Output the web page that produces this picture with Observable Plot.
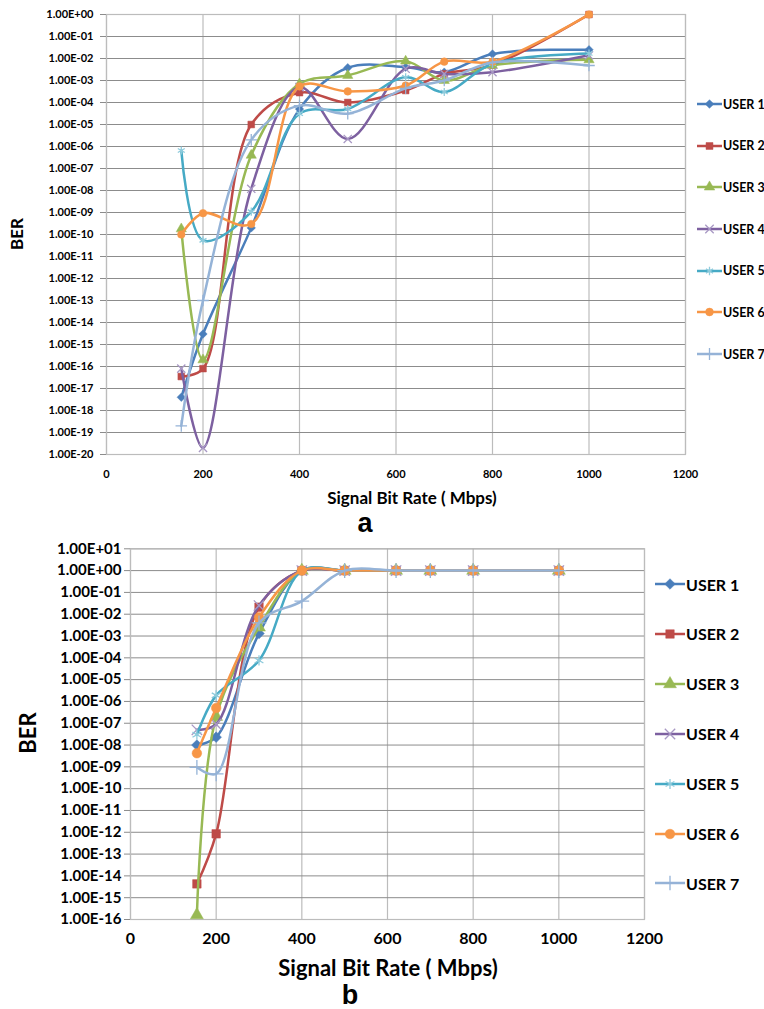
<!DOCTYPE html>
<html>
<head>
<meta charset="utf-8">
<script src="https://cdn.jsdelivr.net/npm/d3@7"></script>
<script src="https://cdn.jsdelivr.net/npm/@observablehq/plot@0.6"></script>
<style>
  html, body { margin: 0; padding: 0; background: #fff; }
  #page { position: relative; width: 764px; height: 1009px; overflow: hidden;
          font-family: Lato, "Open Sans", sans-serif; }
  .ttl { position: absolute; font-weight: bold; color: #000; white-space: nowrap; line-height: 1; transform: translate(-50%, -50%); }
  .leg { position: absolute; display: flex; align-items: center; font-weight: bold; white-space: nowrap; color: #000; width: 120px; }
  .leg svg, .leg span { flex: 0 0 auto; }
</style>
</head>
<body>
<div id="page"></div>
<script>
// ---------- data ----------
const xRate = [155, 200, 300, 400, 500, 620, 700, 800, 1000];
const users = ["USER 1", "USER 2", "USER 3", "USER 4", "USER 5", "USER 6", "USER 7"];

// chart a (BER)
const berA1 = [4e-18, 3e-15, 2e-10, 5e-5, 3.8e-3, 4e-3, 2.4e-3, 1.6e-2, 2.5e-2];
const berA2 = [3.5e-17, 8e-17, 1e-5, 2.8e-4, 1e-4, 3.5e-4, 2e-3, 5e-3, 1];
const berA3 = [1.8e-10, 2e-16, 4e-7, 7e-4, 1.7e-3, 7.6e-3, 1e-3, 4.8e-3, 8.7e-3];
const berA4 = [8e-17, 2e-20, 1.2e-8, 5e-4, 2.2e-6, 3.4e-3, 2e-3, 2.4e-3, 1.4e-2];
const berA5 = [6.6e-7, 5.4e-11, 1.1e-9, 3.1e-5, 5.1e-5, 1.4e-3, 3e-4, 5.8e-3, 1.7e-2];
const berA6 = [1e-10, 9.3e-10, 3e-10, 5.4e-4, 3.2e-4, 5.9e-4, 7.2e-3, 7.2e-3, 1];
const berA7 = [2e-19, 1e-13, 2e-6, 7.2e-5, 3.1e-5, 4.4e-4, 1e-3, 6.6e-3, 4.8e-3];

// chart b (BER)
const berB1 = [1e-8, 2.3e-8, 1.3e-3, 1, 1, 1, 1, 1, 1];
const berB2 = [4.3e-15, 8.5e-13, 2.1e-2, 1, 1, 1, 1, 1, 1];
const berB3 = [1.6e-16, 2e-7, 2.5e-3, 1, 1, 1, 1, 1, 1];
const berB4 = [5e-8, 9e-8, 2.5e-2, 1, 1, 1, 1, 1, 1];
const berB5 = [3e-8, 1.9e-6, 7.6e-5, 1, 1, 1, 1, 1, 1];
const berB6 = [4.2e-9, 5e-7, 7.2e-3, 1, 1, 1, 1, 1, 1];
const berB7 = [9.5e-10, 4.8e-10, 4e-3, 4e-2, 1, 1, 1, 1, 1];

const xTicks = [0, 200, 400, 600, 800, 1000, 1200];
const yTicksA = [1e0, 1e-1, 1e-2, 1e-3, 1e-4, 1e-5, 1e-6, 1e-7, 1e-8, 1e-9, 1e-10,
                 1e-11, 1e-12, 1e-13, 1e-14, 1e-15, 1e-16, 1e-17, 1e-18, 1e-19, 1e-20];
const yTicksB = [1e1, 1e0, 1e-1, 1e-2, 1e-3, 1e-4, 1e-5, 1e-6, 1e-7, 1e-8, 1e-9,
                 1e-10, 1e-11, 1e-12, 1e-13, 1e-14, 1e-15, 1e-16];

const xTitle = "Signal Bit Rate ( Mbps)";
const yTitle = "BER";

// ---------- styles ----------
const lineColors = ["#4a7ebb", "#be4b48", "#98b954", "#7d60a0", "#46aac5", "#f79646", "#95b3d7"];
const markColors = ["#4a7ebb", "#be4b48", "#98b954", "#a898c4", "#8fcbdc", "#f79646", "#95b3d7"];
const symbols = ["diamond2", "square", "triangle", "times", "asterisk", "circle", "plus"];
const filled = [true, true, true, false, false, true, false];
const d3Symbols = [d3.symbolDiamond2, d3.symbolSquare, d3.symbolTriangle, d3.symbolTimes,
                   d3.symbolAsterisk, d3.symbolCircle, d3.symbolPlus];
const FONT = 'Lato, "Open Sans", sans-serif';

function sci(d) {
  const e = Math.round(Math.log10(d));
  return "1.00E" + (e < 0 ? "-" : "+") + String(Math.abs(e)).padStart(2, "0");
}

function rowsFor(series) {
  return series.map(s => xRate.map((x, j) => ({x, y: s[j]})));
}

function makeChart(cfg) {
  const marks = [
    Plot.gridX(xTicks, {stroke: "#bcbcbc", strokeOpacity: 1, strokeWidth: 1.2}),
    Plot.gridY(cfg.yTicks, {stroke: "#8c8c8c", strokeOpacity: 1, strokeWidth: 1}),
    Plot.frame({stroke: "#bcbcbc", strokeWidth: 1.2}),
    Plot.axisY({ticks: cfg.yTicks, tickFormat: sci, tickSize: 6, tickPadding: cfg.yPad,
                stroke: "#8c8c8c", fontSize: cfg.tickFont, fontWeight: "bold", fontFamily: FONT,
                fill: "#000", label: null}),
    Plot.axisX({ticks: xTicks, tickSize: 0, tickPadding: cfg.xPad, tickFormat: d => String(d),
                fontSize: cfg.xTickFont, fontWeight: "bold", fontFamily: FONT, fill: "#000", label: null})
  ];
  cfg.rows.forEach((rows, i) => {
    marks.push(Plot.line(rows, {x: "x", y: "y", stroke: lineColors[i], strokeWidth: cfg.lw,
                                curve: "catmull-rom", clip: true}));
    marks.push(Plot.dot(rows, {x: "x", y: "y", symbol: () => symbols[i], r: cfg.r,
                               fill: filled[i] ? markColors[i] : "none",
                               stroke: markColors[i], strokeWidth: filled[i] ? 0.5 : 1.3}));
  });
  return Plot.plot({
    width: cfg.width, height: cfg.height,
    marginLeft: cfg.ml, marginRight: cfg.mr, marginTop: cfg.mt, marginBottom: cfg.mb,
    x: {domain: [0, 1200]},
    y: {type: "log", domain: cfg.yDomain},
    symbol: {type: "identity"},
    style: {background: "transparent", fontFamily: FONT, overflow: "visible"},
    marks
  });
}

const page = document.getElementById("page");

function place(el, left, top) {
  el.style.position = "absolute";
  el.style.left = left + "px";
  el.style.top = top + "px";
  page.appendChild(el);
}

function title(text, cx, cy, size, rotate, family) {
  const d = document.createElement("div");
  d.className = "ttl";
  d.textContent = text;
  d.style.left = cx + "px";
  d.style.top = cy + "px";
  d.style.fontSize = size + "px";
  if (family) d.style.fontFamily = family;
  if (rotate) d.style.transform = "translate(-50%, -50%) rotate(-90deg)";
  page.appendChild(d);
}

function legend(x0, yStart, dy, lineW, fontSize, symArea) {
  users.forEach((u, i) => {
    const row = document.createElement("div");
    row.className = "leg";
    row.style.left = x0 + "px";
    row.style.top = (yStart + i * dy - 10) + "px";
    row.style.height = "20px";
    row.style.fontSize = fontSize + "px";
    const ns = "http://www.w3.org/2000/svg";
    const svg = document.createElementNS(ns, "svg");
    svg.setAttribute("width", lineW + 1);
    svg.setAttribute("height", 20);
    const ln = document.createElementNS(ns, "line");
    ln.setAttribute("x1", 0); ln.setAttribute("x2", lineW);
    ln.setAttribute("y1", 10); ln.setAttribute("y2", 10);
    ln.setAttribute("stroke", lineColors[i]); ln.setAttribute("stroke-width", 2.5);
    svg.appendChild(ln);
    const p = document.createElementNS(ns, "path");
    p.setAttribute("d", d3.symbol(d3Symbols[i], symArea)());
    p.setAttribute("transform", `translate(${lineW / 2},10)`);
    p.setAttribute("fill", filled[i] ? markColors[i] : "none");
    p.setAttribute("stroke", markColors[i]);
    p.setAttribute("stroke-width", filled[i] ? 0.5 : 1.3);
    svg.appendChild(p);
    row.appendChild(svg);
    const t = document.createElement("span");
    t.textContent = u;
    row.appendChild(t);
    page.appendChild(row);
  });
}

// ---------- chart a ----------
const chartA = makeChart({
  rows: rowsFor([berA1, berA2, berA3, berA4, berA5, berA6, berA7]),
  width: 690, height: 490, ml: 106, mr: 5, mt: 14, mb: 36,
  yTicks: yTicksA, yDomain: [1e-20, 1], yPad: 7, xPad: 16,
  tickFont: 11, xTickFont: 11, lw: 2.5, r: 3.8
});
place(chartA, 0, 0);
title(yTitle, 16, 234, 17, true);
title(xTitle, 412, 497, 17);
title("a", 365, 523, 27, false, '"Liberation Sans", Arial, sans-serif');
legend(697, 104, 41.67, 25, 12.5, 48);

// ---------- chart b ----------
const chartB = makeChart({
  rows: rowsFor([berB1, berB2, berB3, berB4, berB5, berB6, berB7]),
  width: 650, height: 450, ml: 130, mr: 6, mt: 28.3, mb: 51,
  yTicks: yTicksB, yDomain: [1e-16, 10], yPad: 3, xPad: 13,
  tickFont: 15, xTickFont: 16, lw: 2.5, r: 4.8
});
place(chartB, 0, 520);
title(yTitle, 28, 733, 22, true);
title(xTitle, 388, 968, 22);
title("b", 350, 995, 27, false, '"Liberation Sans", Arial, sans-serif');
legend(655, 584, 49.9, 30, 16, 72);
</script>
</body>
</html>
